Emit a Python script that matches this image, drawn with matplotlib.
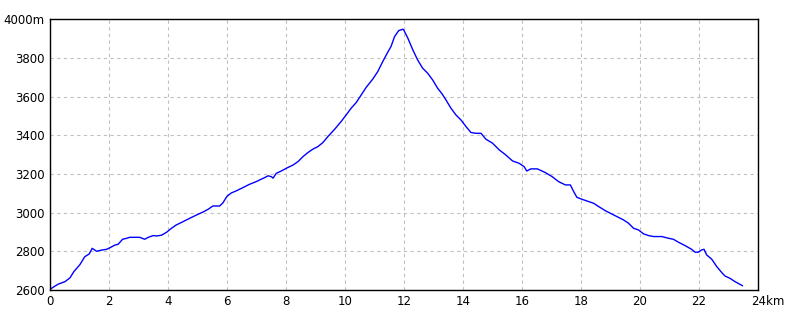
import matplotlib
matplotlib.use("Agg")
import matplotlib.pyplot as plt
import matplotlib.transforms as mtransforms

# 距離 (km) と標高 (m) — 画像から読み取った値
dist_km = [
    0.00, 0.17, 0.28, 0.51, 0.68, 0.81, 1.01, 1.18, 1.33, 1.43, 1.58, 1.75,
    1.92, 2.03, 2.20, 2.31, 2.46, 2.60, 2.70, 3.04, 3.21, 3.33, 3.50, 3.61,
    3.78, 3.95, 4.12, 4.28, 4.51, 4.73, 4.96, 5.19, 5.36, 5.52, 5.75, 5.86,
    6.00, 6.14, 6.31, 6.54, 6.76, 6.99, 7.11, 7.28, 7.39, 7.50, 7.56, 7.67,
    7.84, 8.01, 8.24, 8.41, 8.58, 8.74, 8.91, 9.08, 9.25, 9.42, 9.65, 9.87,
    10.04, 10.21, 10.38, 10.55, 10.72, 10.94, 11.11, 11.28, 11.43, 11.56,
    11.68, 11.82, 11.96, 11.99, 12.13, 12.30, 12.46, 12.63, 12.80, 12.97,
    13.14, 13.29, 13.42, 13.59, 13.76, 13.93, 14.10, 14.27, 14.44, 14.61,
    14.78, 15.00, 15.23, 15.45, 15.68, 15.90, 16.07, 16.16, 16.30, 16.52,
    16.79, 17.02, 17.24, 17.47, 17.64, 17.75, 17.86, 18.03, 18.20, 18.43,
    18.60, 18.82, 18.99, 19.22, 19.44, 19.61, 19.78, 19.95, 20.12, 20.29,
    20.46, 20.74, 20.97, 21.13, 21.30, 21.53, 21.75, 21.87, 21.98, 22.09,
    22.17, 22.26, 22.43, 22.60, 22.77, 22.88, 23.05, 23.22, 23.33, 23.47,
]
elev_m = [
    2603, 2620, 2630, 2643, 2663, 2695, 2730, 2772, 2786, 2815, 2800, 2806,
    2810, 2818, 2832, 2836, 2862, 2867, 2872, 2872, 2862, 2872, 2881, 2879,
    2883, 2898, 2919, 2936, 2953, 2970, 2987, 3003, 3017, 3034, 3034, 3050,
    3084, 3101, 3112, 3129, 3146, 3160, 3169, 3181, 3190, 3186, 3178, 3203,
    3215, 3229, 3246, 3264, 3290, 3310, 3328, 3341, 3362, 3393, 3431, 3471,
    3505, 3540, 3569, 3609, 3648, 3690, 3729, 3781, 3824, 3859,
    3910, 3941, 3948, 3945, 3902, 3841, 3790, 3747, 3721, 3686,
    3643, 3614, 3583, 3540, 3505, 3479, 3445, 3414, 3410, 3410,
    3379, 3359, 3324, 3298, 3267, 3255, 3238, 3215, 3226, 3226,
    3207, 3186, 3160, 3143, 3143, 3109, 3079, 3069, 3060, 3048,
    3031, 3010, 2997, 2979, 2962, 2945, 2919, 2910, 2890, 2881,
    2876, 2876, 2867, 2862, 2847, 2829, 2810, 2795, 2795, 2807,
    2810, 2781, 2759, 2721, 2690, 2672, 2660, 2643, 2634, 2622,
]

x_ticks = list(range(0, 25, 2))
x_labels = [str(v) for v in x_ticks[:-1]] + ["24km"]
y_ticks = list(range(2600, 4001, 200))
y_labels = [str(v) for v in y_ticks[:-1]] + ["4000m"]

fig = plt.figure(figsize=(8, 3.2), dpi=100)
ax = fig.add_axes([0.0625, 0.094, 0.885, 0.846])

ax.plot(dist_km, elev_m, color="#0000ff", linewidth=1.0)

ax.set_xlim(0, 24)
ax.set_ylim(2600, 4000)
ax.set_xticks(x_ticks)
ax.set_xticklabels(x_labels)
ax.set_yticks(y_ticks)
ax.set_yticklabels(y_labels)
ax.tick_params(length=0, labelsize=8.5, pad=4)

# 最後のラベル "24km" は左寄せ
last = ax.get_xticklabels()[-1]
last.set_horizontalalignment("left")
last.set_transform(last.get_transform() +
                   mtransforms.ScaledTranslation(-5 / 72, 0, fig.dpi_scale_trans))

ax.grid(True, color="#c0c0c0", linestyle=(0, (3, 3)), linewidth=0.8)
for s in ax.spines.values():
    s.set_linewidth(1.0)
    s.set_color("black")

fig.savefig("out.png", dpi=100)
